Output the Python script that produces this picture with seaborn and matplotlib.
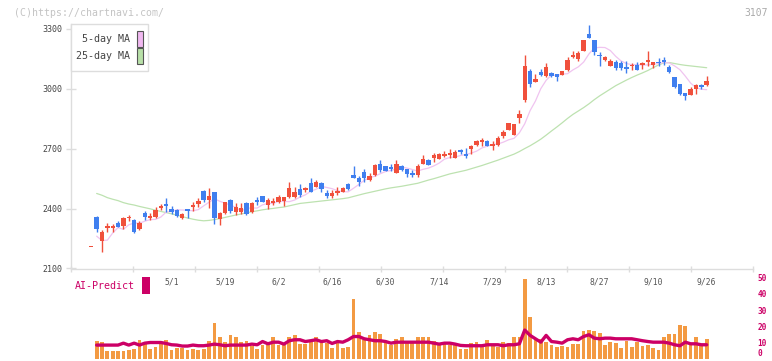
import numpy as np
import matplotlib
matplotlib.use("Agg")
import matplotlib.pyplot as plt
from matplotlib.patches import Rectangle
import seaborn as sns

# daily prices, session 0 .. 115 (last session = 9/26)
opens = [2207, 2297, 2282, 2312, 2314, 2309, 2354, 2359, 2282, 2327,
         2359, 2362, 2392, 2412, 2414, 2381, 2364, 2372, 2389, 2417,
         2437, 2442, 2462, 2351, 2377, 2431, 2387, 2406, 2402, 2371,
         2426, 2434, 2434, 2442, 2437, 2456, 2459, 2504, 2481, 2467,
         2504, 2484, 2534, 2497, 2462, 2476, 2487, 2504, 2497, 2554,
         2534, 2554, 2562, 2617, 2592, 2589, 2601, 2622, 2592, 2571,
         2567, 2612, 2647, 2617, 2667, 2676, 2672, 2679, 2682, 2684,
         2662, 2712, 2739, 2746, 2712, 2722, 2754, 2784, 2829, 2826,
         2876, 3117, 3024, 3047, 3067, 3112, 3064, 3059, 3092, 3146,
         3172, 3179, 3247, 3257, 3184, 3164, 3159, 3139, 3104, 3106,
         3101, 3122, 3097, 3131, 3147, 3137, 3129, 3134, 3084, 3009,
         2972, 2964, 2997, 3017, 3009, 3037]
highs = [2207, 2362, 2292, 2326, 2321, 2337, 2359, 2367, 2346, 2339,
         2387, 2376, 2409, 2424, 2451, 2412, 2396, 2379, 2397, 2431,
         2451, 2492, 2501, 2484, 2384, 2434, 2447, 2426, 2426, 2434,
         2434, 2456, 2462, 2454, 2451, 2467, 2459, 2534, 2509, 2521,
         2509, 2551, 2542, 2534, 2492, 2492, 2509, 2509, 2529, 2612,
         2564, 2601, 2576, 2622, 2642, 2614, 2626, 2642, 2617, 2601,
         2592, 2622, 2671, 2647, 2679, 2681, 2689, 2697, 2692, 2701,
         2706, 2717, 2746, 2756, 2742, 2739, 2762, 2796, 2829, 2826,
         2892, 3172, 3101, 3076, 3101, 3129, 3084, 3076, 3092, 3162,
         3192, 3189, 3247, 3322, 3247, 3187, 3167, 3151, 3146, 3139,
         3142, 3129, 3137, 3134, 3192, 3137, 3156, 3159, 3121, 3059,
         3026, 2979, 3009, 3022, 3026, 3062]
lows = [2207, 2281, 2181, 2284, 2281, 2306, 2297, 2337, 2279, 2294,
        2342, 2344, 2351, 2392, 2381, 2372, 2357, 2346, 2351, 2389,
        2409, 2434, 2401, 2324, 2319, 2372, 2376, 2367, 2371, 2367,
        2376, 2418, 2431, 2397, 2417, 2426, 2412, 2454, 2451, 2459,
        2481, 2481, 2506, 2481, 2454, 2454, 2467, 2481, 2492, 2554,
        2514, 2534, 2539, 2564, 2581, 2587, 2589, 2576, 2589, 2556,
        2556, 2556, 2622, 2617, 2634, 2647, 2659, 2656, 2656, 2676,
        2656, 2676, 2712, 2712, 2712, 2692, 2714, 2756, 2792, 2768,
        2829, 2934, 3009, 3034, 3062, 3059, 3059, 3039, 3067, 3092,
        3154, 3139, 3189, 3257, 3171, 3117, 3139, 3114, 3097, 3097,
        3081, 3097, 3097, 3101, 3117, 3106, 3117, 3122, 3079, 3004,
        2967, 2946, 2971, 2976, 3001, 3014]
closes = [2207, 2357, 2237, 2301, 2301, 2327, 2314, 2354, 2342, 2297,
          2379, 2351, 2359, 2402, 2422, 2397, 2392, 2351, 2397, 2409,
          2424, 2487, 2442, 2481, 2349, 2376, 2442, 2384, 2384, 2426,
          2381, 2442, 2462, 2417, 2426, 2434, 2439, 2459, 2459, 2497,
          2492, 2529, 2509, 2526, 2476, 2462, 2476, 2484, 2522, 2567,
          2554, 2584, 2542, 2567, 2626, 2612, 2609, 2579, 2612, 2601,
          2579, 2567, 2626, 2642, 2656, 2651, 2664, 2667, 2656, 2692,
          2676, 2701, 2717, 2734, 2737, 2714, 2717, 2762, 2796, 2771,
          2854, 2942, 3092, 3034, 3084, 3062, 3079, 3072, 3071, 3096,
          3159, 3151, 3192, 3277, 3247, 3172, 3146, 3117, 3134, 3129,
          3109, 3114, 3122, 3122, 3134, 3121, 3137, 3147, 3109, 3059,
          3026, 2979, 2971, 2997, 3017, 3017]

# sessions 1 .. 115
ma5 = [2262, 2240, 2242, 2278, 2305, 2296, 2319, 2328, 2327, 2337,
       2345, 2346, 2358, 2383, 2386, 2394, 2393, 2392, 2389, 2395,
       2414, 2432, 2449, 2437, 2427, 2418, 2406, 2387, 2402, 2403,
       2403, 2419, 2426, 2426, 2436, 2436, 2435, 2443, 2458, 2469,
       2487, 2497, 2511, 2506, 2500, 2490, 2485, 2484, 2502, 2521,
       2542, 2554, 2563, 2575, 2586, 2591, 2599, 2608, 2603, 2596,
       2588, 2597, 2603, 2614, 2628, 2648, 2656, 2659, 2666, 2671,
       2678, 2688, 2704, 2713, 2721, 2724, 2733, 2745, 2752, 2780,
       2825, 2891, 2939, 3001, 3043, 3070, 3066, 3074, 3076, 3095,
       3110, 3134, 3175, 3205, 3208, 3207, 3192, 3163, 3140, 3127,
       3121, 3122, 3119, 3120, 3123, 3127, 3132, 3130, 3115, 3096,
       3064, 3029, 3006, 2998, 2996]
ma25 = [2476, 2467, 2455, 2447, 2440, 2430, 2423, 2418, 2411, 2405,
        2399, 2392, 2386, 2380, 2374, 2367, 2360, 2353, 2347, 2342,
        2339, 2341, 2345, 2350, 2356, 2362, 2368, 2373, 2379, 2384,
        2389, 2394, 2398, 2401, 2405, 2408, 2414, 2420, 2426, 2429,
        2432, 2435, 2438, 2441, 2444, 2447, 2450, 2454, 2461, 2468,
        2475, 2481, 2487, 2493, 2499, 2504, 2508, 2512, 2517, 2522,
        2527, 2535, 2543, 2550, 2558, 2566, 2574, 2580, 2586, 2592,
        2600, 2608, 2616, 2625, 2634, 2643, 2653, 2663, 2673, 2686,
        2701, 2715, 2731, 2748, 2768, 2789, 2809, 2830, 2852, 2872,
        2889, 2906, 2925, 2946, 2965, 2982, 2999, 3016, 3030, 3044,
        3057, 3069, 3080, 3092, 3106, 3120, 3130, 3132, 3127, 3122,
        3118, 3115, 3112, 3109, 3106]
volume = [11.0, 10.3, 4.8, 4.8, 4.8, 4.8, 5.4, 6.0, 11.6, 8.9,
          6.0, 7.4, 8.9, 11.6, 5.4, 6.8, 6.8, 5.4, 6.0, 5.4,
          6.0, 11.0, 22.1, 13.0, 10.1, 14.3, 13.6, 10.1, 11.0, 7.8,
          6.0, 8.5, 8.5, 13.0, 8.5, 8.5, 13.0, 14.7, 9.1, 9.1,
          10.5, 13.6, 9.5, 9.5, 6.8, 10.1, 6.8, 7.4, 37.0, 16.7,
          11.6, 14.3, 16.1, 15.3, 10.5, 8.5, 12.2, 13.0, 10.1, 10.1,
          13.6, 13.6, 13.6, 11.0, 8.5, 9.1, 8.5, 8.5, 6.0, 6.0,
          9.5, 10.1, 8.5, 11.6, 8.5, 7.4, 10.1, 9.5, 13.0, 13.6,
          49.4, 25.4, 11.6, 12.2, 10.1, 8.5, 7.4, 7.9, 7.4, 8.9,
          8.9, 17.2, 17.8, 17.2, 15.7, 8.5, 10.1, 9.5, 6.4, 11.0,
          7.4, 10.5, 7.9, 8.5, 6.4, 5.4, 13.6, 15.3, 15.3, 20.9,
          19.9, 8.5, 13.0, 8.5, 12.2]
ai_predict = [8.3, 8.3, 8.3, 8.3, 8.3, 9.5, 8.3, 9.5, 8.3, 9.5,
              9.9, 9.9, 9.9, 9.3, 8.5, 8.3, 7.7, 7.7, 8.3, 7.9,
              7.9, 8.3, 8.9, 8.5, 7.9, 8.3, 8.3, 8.3, 8.3, 8.9,
              8.5, 10.5, 9.1, 10.1, 10.1, 8.9, 11.0, 11.6, 11.6, 10.5,
              11.0, 11.6, 10.5, 11.0, 9.3, 10.5, 10.1, 11.6, 13.6, 13.6,
              12.2, 11.6, 11.0, 11.0, 10.5, 9.5, 10.1, 10.1, 10.1, 10.1,
              10.1, 10.1, 10.1, 9.5, 8.9, 9.5, 9.5, 8.9, 8.1, 7.9,
              7.9, 7.9, 7.9, 8.5, 8.5, 8.5, 7.9, 8.5, 8.5, 9.1,
              17.6, 14.3, 12.2, 10.1, 14.3, 10.5, 10.1, 9.5, 11.6, 12.2,
              11.6, 13.6, 14.7, 12.6, 12.2, 12.6, 12.6, 12.2, 12.2, 12.2,
              12.2, 11.6, 11.0, 10.5, 10.1, 10.1, 10.1, 9.5, 8.5, 7.9,
              10.1, 9.1, 9.1, 8.5, 8.5]
date_labels = ["5/1", "5/19", "6/2", "6/16", "6/30", "7/14",
               "7/29", "8/13", "8/27", "9/10", "9/26"]

RED, BLUE = "#f0503c", "#3f7fef"
ORANGE, MAGENTA = "#f39a42", "#cc0066"
W, H = 772, 361


def fx(px):
    return px / W


def fy(py):
    return 1 - py / H


sns.set_theme(style="white")
plt.rcParams["font.family"] = ["DejaVu Sans Mono", "DejaVu Sans"]

o, h, l, c = (np.array(a, dtype=float) for a in (opens, highs, lows, closes))
days = np.arange(len(c))
later = days[1:]
colors = np.where(c > o, BLUE, RED)

fig = plt.figure(figsize=(W / 100, H / 100), dpi=100)
ax = fig.add_axes([fx(70.7), fy(268.5), (752.7 - 70.7) / W, (268.5 - 24) / H])
axv = fig.add_axes([fx(70.7), fy(358.5), (752.7 - 70.7) / W, (358.5 - 277.7) / H])

# price panel
sns.lineplot(x=later, y=ma25, ax=ax, color="#bde2b0", lw=0.9, legend=False, zorder=1)
sns.lineplot(x=later, y=ma5, ax=ax, color="#f0c4f0", lw=0.9, legend=False, zorder=1)
ax.vlines(days, l, h, colors=colors, lw=1, zorder=2)
ax.bar(days, np.maximum(np.abs(c - o), 4), bottom=np.minimum(o, c),
       width=0.82, color=colors, lw=0, zorder=3)

ax.set_xlim(-3.85, 123.6)
ax.set_ylim(2100, 3325)
ax.set_xticks(np.linspace(*ax.get_xlim(), 12))
ax.set_xticklabels([])
ax.set_yticks([2100, 2400, 2700, 3000, 3300])
ax.set_xlabel("")
ax.set_ylabel("")
for side in ("top", "right"):
    ax.spines[side].set_visible(False)
for side in ("left", "bottom"):
    ax.spines[side].set_color("#dddddd")
    ax.spines[side].set_linewidth(1)
ax.tick_params(axis="y", direction="inout", length=6.5, width=1, color="#dddddd",
               labelsize=6, labelcolor="#444444", pad=3, left=True)
ax.tick_params(axis="x", direction="inout", length=4.5, width=1, color="#dddddd", bottom=True)
ax.set_facecolor("none")

# volume panel
sns.barplot(x=later, y=volume, ax=axv, native_scale=True, color=ORANGE,
            saturation=1, width=0.7, linewidth=0, zorder=1)
sns.lineplot(x=later, y=ai_predict, ax=axv, color=MAGENTA, lw=2.4,
             legend=False, zorder=3)
axv.set_xlim(ax.get_xlim())
axv.set_ylim(0, 50)
axv.set_xticks([])
axv.set_xlabel("")
axv.set_ylabel("")
axv.yaxis.tick_right()
axv.set_yticks([0, 10, 20, 30, 40, 50])
axv.tick_params(axis="y", length=0, pad=3.5, labelsize=5.6, labelcolor=MAGENTA)
for t in axv.get_yticklabels():
    t.set_fontweight("bold")
axv.get_yticklabels()[0].set_verticalalignment("bottom")
for s in axv.spines.values():
    s.set_visible(False)
axv.set_facecolor("none")

for i, lab in zip(range(15, len(days), 10), date_labels):
    axv.text(i, 47.5, lab, ha="center", va="center", fontsize=5.8, color="#555555")

# header texts
fig.text(fx(14), fy(12.7), "(C)https://chartnavi.com/", color="#c4c4c4",
         fontsize=7.1, ha="left", va="center")
fig.text(fx(768), fy(12.7), "3107", color="#aaaaaa", fontsize=7, ha="right", va="center")

# legend box
fig.patches.append(Rectangle((fx(70.7), fy(71)), 77.6 / W, 47 / H, transform=fig.transFigure,
                             facecolor="white", edgecolor="#dddddd", lw=1, zorder=5))
for ytxt, lab, col in ((39, "5-day MA", "#f0b8f0"), (55.8, "25-day MA", "#b8e0a8")):
    fig.text(fx(129.5), fy(ytxt), lab, ha="right", va="center", fontsize=7.2,
             color="#444444", zorder=6)
    fig.patches.append(Rectangle((fx(136.5), fy(ytxt + 7.7)), 6.3 / W, 15.4 / H,
                                 transform=fig.transFigure, facecolor=col,
                                 edgecolor="#555555", lw=0.8, zorder=6))

# AI-Predict tag
fig.text(fx(75), fy(286), "AI-Predict", color=MAGENTA, fontsize=7.2, ha="left", va="center")
fig.patches.append(Rectangle((fx(142), fy(293.5)), 7.5 / W, 16.5 / H,
                             transform=fig.transFigure, facecolor=MAGENTA, lw=0))

fig.savefig("out.png", dpi=100, facecolor="white")
